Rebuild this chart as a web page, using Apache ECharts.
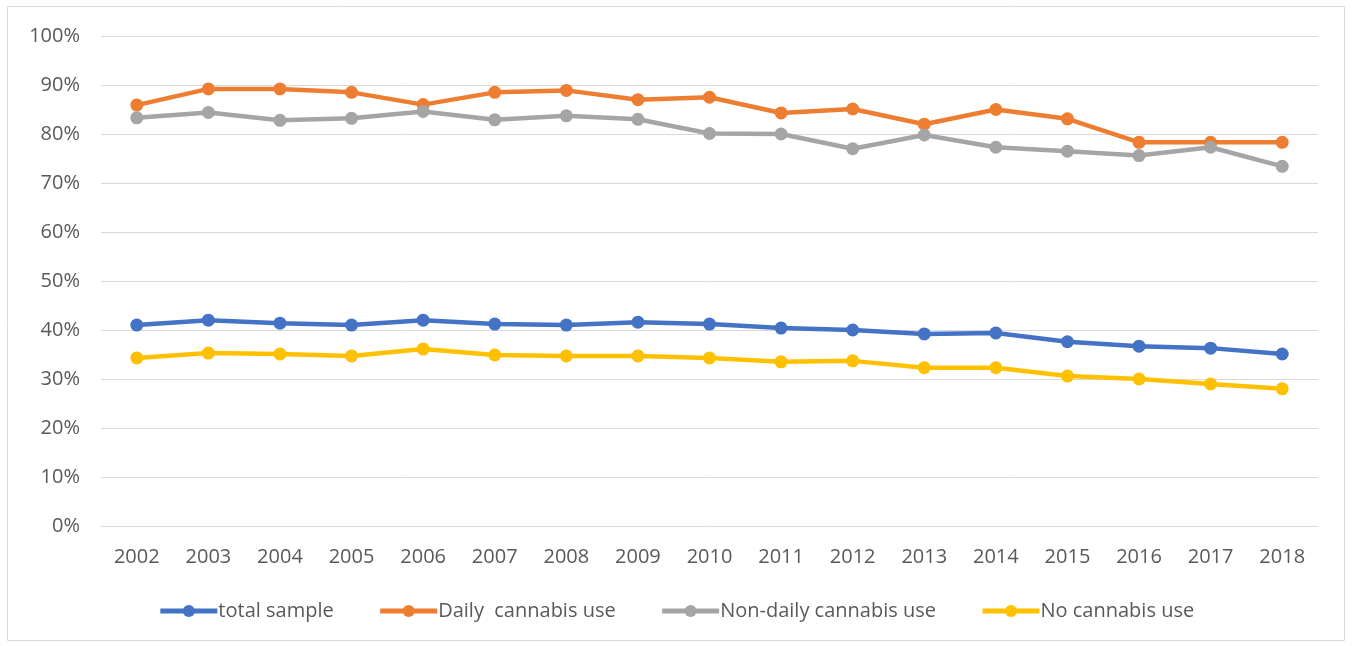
<!DOCTYPE html>
<html><head><meta charset="utf-8">
<script src="https://cdn.jsdelivr.net/npm/echarts@6/dist/echarts.min.js"></script>
<style>html,body{margin:0;padding:0;background:#fff}#c{width:1352px;height:646px}</style>
</head><body><div id="c"></div>
<script>
const years = ['2002','2003','2004','2005','2006','2007','2008','2009','2010','2011','2012','2013','2014','2015','2016','2017','2018'];
const totalSample = [41.0,42.0,41.4,41.0,42.0,41.2,41.0,41.6,41.2,40.4,40.0,39.2,39.4,37.6,36.7,36.3,35.1];
const dailyUse = [85.9,89.2,89.2,88.5,86.0,88.5,88.9,87.0,87.5,84.3,85.1,82.0,85.0,83.1,78.3,78.3,78.3];
const nonDailyUse = [83.3,84.4,82.8,83.2,84.6,82.9,83.7,83.0,80.1,80.0,77.0,79.8,77.3,76.5,75.6,77.3,73.4];
const noUse = [34.3,35.3,35.1,34.7,36.1,34.9,34.7,34.7,34.3,33.5,33.7,32.3,32.3,30.6,30.0,29.0,28.0];
const seriesNames = ['total sample','Daily  cannabis use','Non-daily cannabis use','No cannabis use'];
const colors = ['#4472C4','#ED7D31','#A5A5A5','#FFC000'];
const FONT = '"Open Sans",sans-serif';
const chart = echarts.init(document.getElementById('c'));
const data = [totalSample, dailyUse, nonDailyUse, noUse];
chart.setOption({
  animation:false,
  color: colors,
  graphic:[{type:'rect',shape:{x:7.5,y:6.5,width:1337,height:634},style:{fill:'none',stroke:'#d9d9d9',lineWidth:1},silent:true}],
  grid:{left:101,right:34,top:36,bottom:120,containLabel:false},
  legend:{bottom:20,left:'center',itemWidth:57,itemHeight:15,itemGap:44,
    lineStyle:{width:5},
    textStyle:{fontFamily:FONT,fontSize:20,color:'#595959',padding:[0,0,0,-4]},
    data:seriesNames},
  xAxis:{type:'category',data:years,boundaryGap:true,
    axisLine:{lineStyle:{color:'#d9d9d9'}},axisTick:{show:false},
    axisLabel:{fontFamily:FONT,fontSize:20,color:'#595959',margin:21}},
  yAxis:{type:'value',min:0,max:100,interval:10,
    axisLabel:{formatter:'{value}%',fontFamily:FONT,fontSize:20,color:'#595959',margin:21},
    splitLine:{lineStyle:{color:'#d9d9d9',width:1}},axisLine:{show:false},axisTick:{show:false}},
  series: seriesNames.map((n,i)=>({name:n,type:'line',data:data[i],symbol:'circle',symbolSize:13,
    lineStyle:{width:4.5,color:colors[i]},itemStyle:{color:colors[i]}}))
});
</script></body></html>
